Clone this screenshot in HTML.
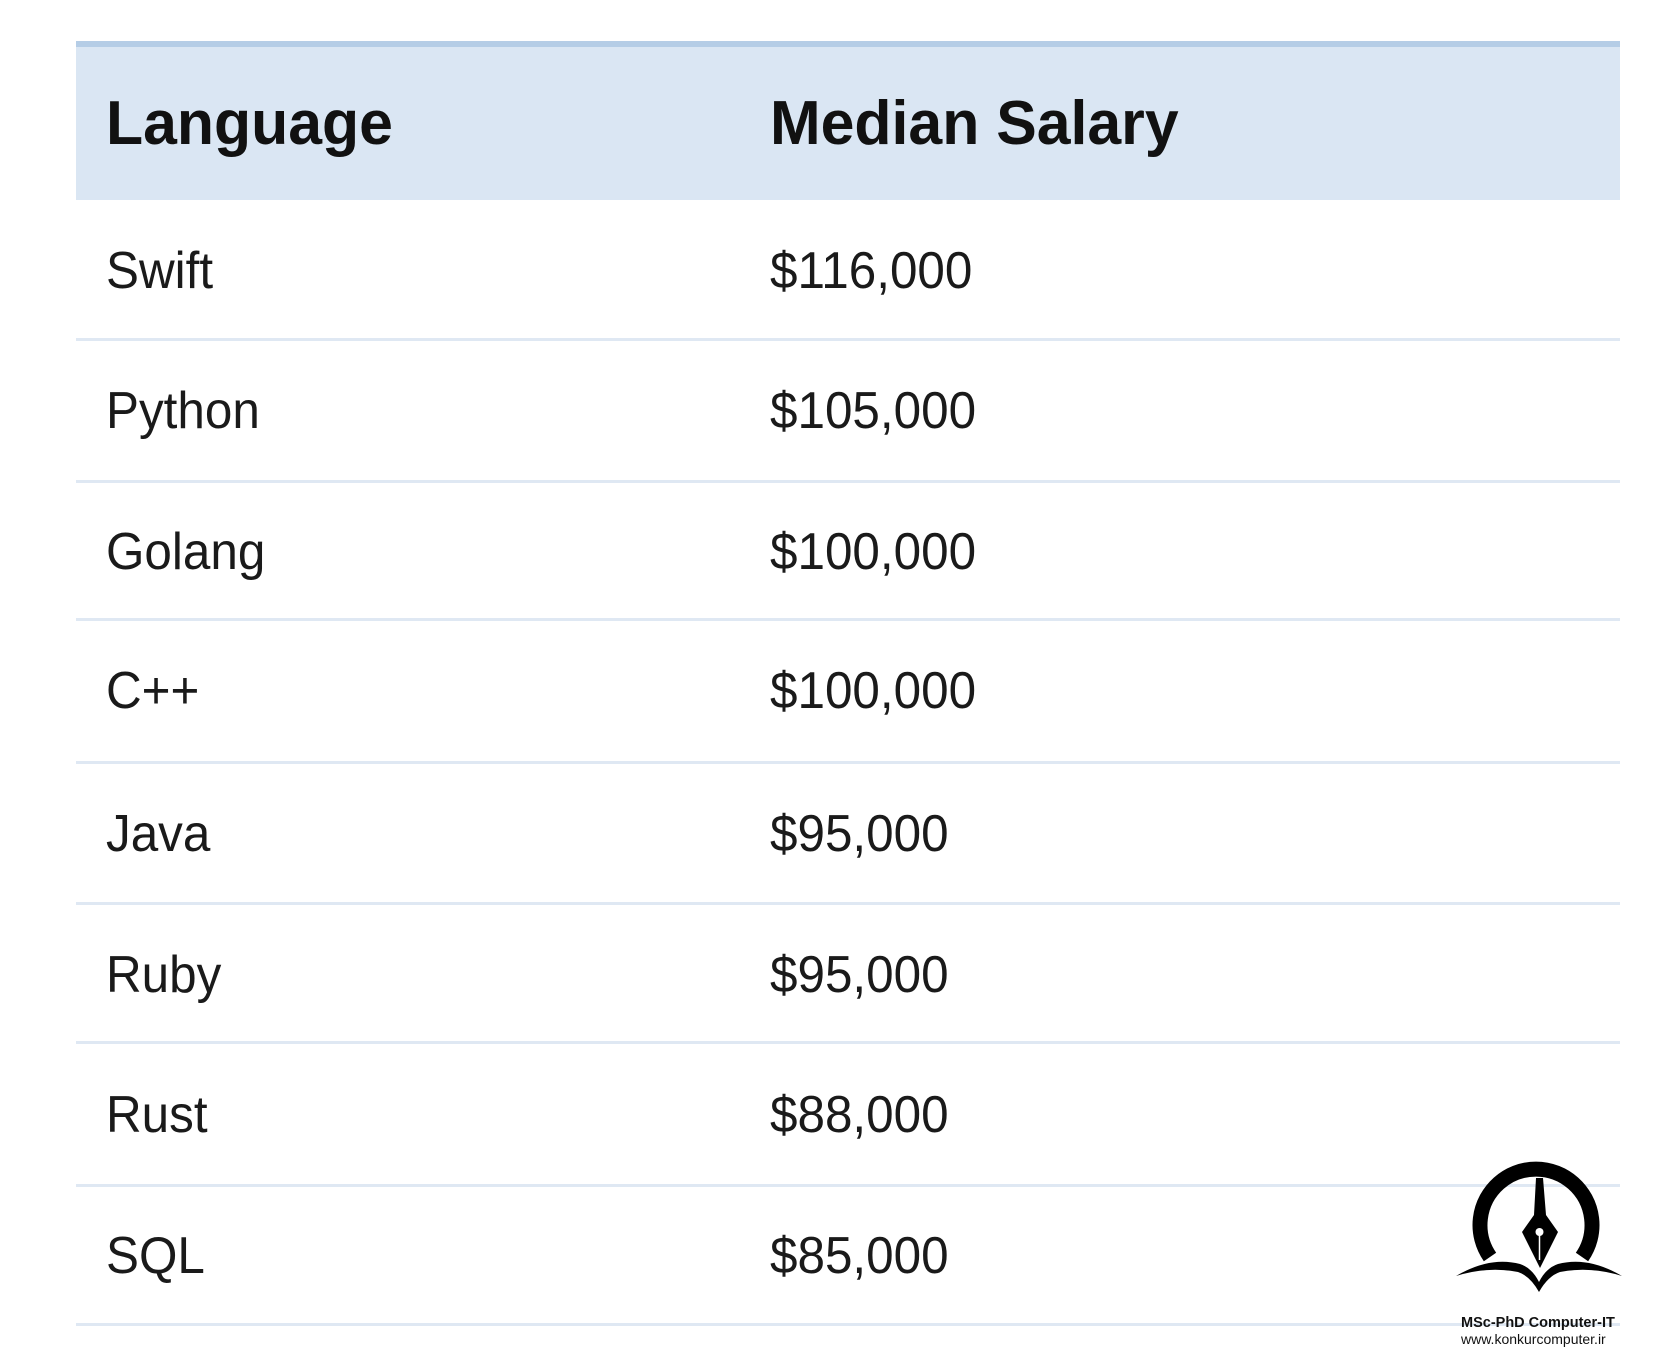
<!DOCTYPE html>
<html><head><meta charset="utf-8"><style>
body{margin:0;width:1675px;height:1372px;background:#fff;position:relative;overflow:hidden;font-family:"Liberation Sans",sans-serif;color:#111}
.hdr{position:absolute;left:76px;top:41px;width:1544px;height:159px;background:#dae6f3;border-top:6px solid #b5cde6;box-sizing:border-box}
.t{position:absolute;white-space:nowrap;transform-origin:left center;line-height:1}
.h{font-weight:bold;font-size:62px;transform:translateY(-50%) scaleX(0.98)}
.b{font-size:52px;transform:translateY(-50%) scaleX(0.95);color:#1a1a1a}
.ln{position:absolute;left:76px;width:1544px;height:3px;background:#dfe8f3}
</style></head><body>
<div class="hdr"></div>
<div class="t h" style="left:106px;top:124px">Language</div>
<div class="t h" style="left:770px;top:124px">Median Salary</div>

<div class="t b" style="left:106px;top:271px">Swift</div><div class="t b" style="left:770px;top:271px">$116,000</div>
<div class="ln" style="top:338px"></div>
<div class="t b" style="left:106px;top:411px">Python</div><div class="t b" style="left:770px;top:411px">$105,000</div>
<div class="ln" style="top:480px"></div>
<div class="t b" style="left:106px;top:552px">Golang</div><div class="t b" style="left:770px;top:552px">$100,000</div>
<div class="ln" style="top:618px"></div>
<div class="t b" style="left:106px;top:691px">C++</div><div class="t b" style="left:770px;top:691px">$100,000</div>
<div class="ln" style="top:761px"></div>
<div class="t b" style="left:106px;top:834px">Java</div><div class="t b" style="left:770px;top:834px">$95,000</div>
<div class="ln" style="top:902px"></div>
<div class="t b" style="left:106px;top:975px">Ruby</div><div class="t b" style="left:770px;top:975px">$95,000</div>
<div class="ln" style="top:1041px"></div>
<div class="t b" style="left:106px;top:1115px">Rust</div><div class="t b" style="left:770px;top:1115px">$88,000</div>
<div class="ln" style="top:1184px"></div>
<div class="t b" style="left:106px;top:1256px">SQL</div><div class="t b" style="left:770px;top:1256px">$85,000</div>
<div class="ln" style="top:1323px"></div>

<svg style="position:absolute;left:1450px;top:1160px" width="180" height="140" viewBox="0 0 180 140">
<path d="M40 97 A56 56 0 1 1 132 97" fill="none" stroke="#000" stroke-width="15"/>
<path d="M86 18 L93 18 L96 55 L108 72 L90 108 L72 72 L84 55 Z" fill="#000"/>
<circle cx="89.5" cy="72" r="4" fill="#fff"/>
<line x1="89.5" y1="72" x2="89.5" y2="100" stroke="#fff" stroke-width="1.5"/>
<path d="M6 116 Q40 96 70 104 Q82 108 89 122 Q96 108 108 104 Q138 96 172 116 Q140 106 110 112 Q98 116 89 132 Q80 116 68 112 Q38 106 6 116 Z" fill="#000"/>
</svg>
<div class="t" style="left:1461px;top:1316px;font-size:14.5px;font-weight:bold">MSc-PhD Computer-IT</div>
<div class="t" style="left:1461px;top:1332px;font-size:14px">www.konkurcomputer.ir</div>
</body></html>
